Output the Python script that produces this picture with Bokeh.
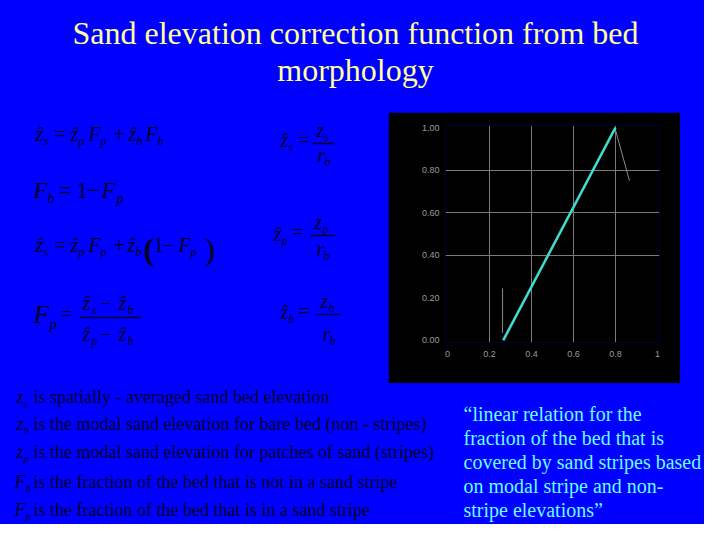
from bokeh.plotting import figure
from bokeh.layouts import column, row
from bokeh.models import Range1d, FixedTicker
from bokeh.core.properties import value
from bokeh.embed import file_html
from bokeh.resources import INLINE

# ---------------- chart data ----------------
line_x = [0.265, 0.80]
line_y = [0.00, 1.00]
pointer1_x = [0.262, 0.262]
pointer1_y = [0.245, 0.035]
pointer2_x = [0.800, 0.867]
pointer2_y = [0.990, 0.750]
x_ticks = [0.0, 0.2, 0.4, 0.6, 0.8, 1.0]
x_tick_labels = ["0", "0.2", "0.4", "0.6", "0.8", "1"]
y_ticks = [0.0, 0.2, 0.4, 0.6, 0.8, 1.0]
y_tick_labels = ["0.00", "0.20", "0.40", "0.60", "0.80", "1.00"]
x_grid = [0.2, 0.4, 0.6, 0.8]
y_grid = [0.4, 0.6, 0.8]

# ---------------- slide texts ----------------
title_lines = ["Sand elevation correction function from bed", "morphology"]
desc_vars = [("z", "s"), ("z", "b"), ("z", "p"), ("F", "b"), ("F", "p")]
desc_texts = [
    "is spatially - averaged sand bed elevation",
    "is the modal sand elevation for bare bed (non - stripes)",
    "is the modal sand elevation for patches of sand (stripes)",
    "is the fraction of  the bed that is not in a sand stripe",
    "is the fraction of  the bed that is in a sand stripe",
]
quote_lines = [
    "\u201clinear relation for the",
    "fraction of the bed that is",
    "covered by sand stripes based",
    "on modal stripe and non-",
    "stripe elevations\u201d",
]

BLUE = "#0000FF"
TITLE_C = "#FFFF99"
QUOTE_C = "#66FFFF"
EQ_C = "#000020"
DESC_C = "#000028"
SERIF = "Liberation Serif"
ZH = "\u1e91"


def panel(w, h, x0, x1, ytop, ybot, bg=BLUE):
    p = figure(width=w, height=h, x_range=Range1d(x0, x1), y_range=Range1d(ybot, ytop),
               toolbar_location=None, output_backend="svg", min_border=0,
               x_axis_location=None, y_axis_location=None, frame_align=False,
               background_fill_color=bg, border_fill_color=bg, outline_line_color=None)
    p.grid.visible = False
    return p


def txt(p, x, y, s, size, color, style="normal", align="left", font=SERIF):
    # y is the wanted baseline (downward pixel coordinate)
    p.text(x=[x], y=[y - 0.33 * size], text=[s], text_font=value(font),
           text_font_size=f"{size}px", text_font_style=style, text_color=color,
           text_align=align, text_baseline="alphabetic")


def eq(p, items, color=EQ_C):
    for (x, y, s, size, style) in items:
        txt(p, x, y, s, size, color, style)


I, R = "italic", "normal"

# ---------------- top: title ----------------
top = panel(704, 112, 0, 704, 0, 112)
txt(top, 355, 43, title_lines[0], 32, TITLE_C, align="center")
txt(top, 355, 80, title_lines[1], 32, TITLE_C, align="center")

# ---------------- middle left: equations ----------------
mid = panel(388, 271, 0, 388, 112, 383)
eq(mid, [
    (35, 140, ZH, 20, I), (43, 144, "s", 12, I), (54, 140, "=", 20, R),
    (70, 140, ZH, 20, I), (78, 144, "p", 12, I), (88, 140, "F", 20, I),
    (100, 144, "p", 12, I), (113, 140, "+", 20, R), (128, 140, ZH, 20, I),
    (136, 144, "b", 12, I), (145, 140, "F", 20, I), (157, 144, "b", 12, I),
])
eq(mid, [
    (33, 198, "F", 23, I), (47, 203, "b", 14, I), (58, 198, "=", 23, R),
    (76, 198, "1", 23, R), (86, 198, "\u2212", 23, R), (101, 198, "F", 23, I),
    (116, 203, "p", 14, I),
])
eq(mid, [
    (35, 251, ZH, 20, I), (43, 255, "s", 12, I), (54, 251, "=", 20, R),
    (70, 251, ZH, 20, I), (78, 255, "p", 12, I), (88, 251, "F", 20, I),
    (100, 255, "p", 12, I), (113, 251, "+", 20, R), (127, 251, ZH, 20, I),
    (135, 255, "b", 12, I), (143, 259, "(", 32, "bold"), (153, 251, "1", 20, R),
    (161, 251, "\u2212", 20, R), (178, 251, "F", 20, I), (190, 255, "p", 12, I),
    (204, 259, ")", 32, R),
])
eq(mid, [
    (33, 323, "F", 26, I), (49, 328, "p", 15, I), (60, 320, "=", 21, R),
    (82, 309, ZH, 20, I), (91, 313, "s", 12, I), (100, 309, "\u2212", 20, R),
    (118, 309, ZH, 20, I), (127, 313, "b", 12, I),
    (82, 340, ZH, 20, I), (91, 344, "p", 12, I), (100, 340, "\u2212", 20, R),
    (118, 340, ZH, 20, I), (127, 344, "b", 12, I),
])
eq(mid, [
    (280, 146, ZH, 20, I), (288, 150, "s", 12, I), (298, 146, "=", 20, R),
    (316, 136, "z", 20, I), (324, 140, "s", 12, I),
    (317, 161, "r", 20, I), (324, 165, "b", 12, I),
    (273, 240, ZH, 20, I), (281, 244, "p", 12, I), (292, 238, "=", 20, R),
    (314, 228, "z", 20, I), (322, 232, "p", 12, I),
    (316, 255, "r", 20, I), (323, 259, "b", 12, I),
    (280, 318, ZH, 20, I), (288, 322, "b", 12, I), (298, 317, "=", 20, R),
    (320, 307, "z", 20, I), (328, 311, "b", 12, I),
    (322, 340, "r", 20, I), (329, 344, "b", 12, I),
])
bar_x0 = [79, 312, 310, 316]
bar_x1 = [140, 334, 334, 340]
bar_y = [317, 143, 235, 314]
mid.segment(x0=bar_x0, y0=bar_y, x1=bar_x1, y1=bar_y, line_color=EQ_C, line_width=1.3)

# ---------------- middle: chart ----------------
chart = figure(width=292, height=271, x_range=Range1d(-0.01, 1.01), y_range=Range1d(-0.01, 1.01),
               toolbar_location=None, output_backend="svg", frame_align=False,
               background_fill_color="#000000", border_fill_color="#000000",
               outline_line_color=None, min_border_left=57, min_border_right=21,
               min_border_top=13, min_border_bottom=41)
for ax in (chart.xaxis[0], chart.yaxis[0]):
    ax.axis_line_color = None
    ax.major_tick_line_color = None
    ax.minor_tick_line_color = None
    ax.major_tick_out = 0
    ax.major_tick_in = 0
    ax.major_label_text_font = "Liberation Sans"
    ax.major_label_text_font_size = "9px"
    ax.major_label_text_color = "#9a9a9a"
chart.xaxis.ticker = FixedTicker(ticks=x_ticks)
chart.yaxis.ticker = FixedTicker(ticks=y_ticks)
chart.xaxis.major_label_overrides = dict(zip(x_ticks, x_tick_labels))
chart.yaxis.major_label_overrides = dict(zip(y_ticks, y_tick_labels))
chart.xaxis.major_label_standoff = 8
chart.yaxis.major_label_standoff = 6
chart.xgrid.ticker = FixedTicker(ticks=x_grid)
chart.ygrid.ticker = FixedTicker(ticks=y_grid)
chart.grid.grid_line_color = "#7a7a7a"
chart.grid.grid_line_width = 1
chart.line(pointer1_x, pointer1_y, line_color="#8a8a8a", line_width=1)
chart.line(pointer2_x, pointer2_y, line_color="#8a8a8a", line_width=1)
chart.line(line_x, line_y, line_color="#40DCD0", line_width=2.5)

pad = panel(24, 271, 680, 704, 112, 383)

# ---------------- bottom: descriptions ----------------
bottom = panel(704, 141, 0, 704, 383, 524)
desc_base = [402, 429, 457, 487, 515]
for (v, sub), t, yb in zip(desc_vars, desc_texts, desc_base):
    if v == "z":
        txt(bottom, 16, yb, v, 18, DESC_C, I)
        txt(bottom, 23, yb + 4, sub, 11, DESC_C, I)
    else:
        txt(bottom, 14, yb, v, 18, DESC_C, I)
        txt(bottom, 25, yb + 4, sub, 11, DESC_C, I)
    txt(bottom, 33, yb, t, 18, DESC_C)

quote_base = [420, 444, 468, 492, 516]
for line, yb in zip(quote_lines, quote_base):
    txt(bottom, 463, yb, line, 20, QUOTE_C)

bg = {"background-color": BLUE}
layout = column(top, row(mid, chart, pad, styles=bg), bottom, styles=bg)
open("out.html", "w").write(file_html(layout, INLINE))
